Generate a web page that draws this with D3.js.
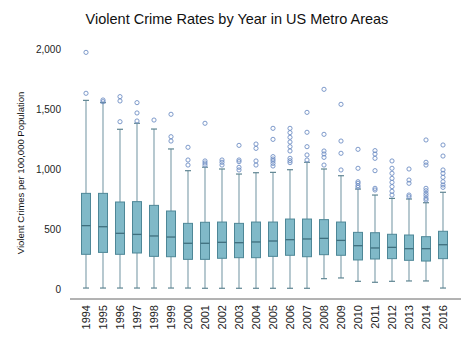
<!DOCTYPE html>
<html><head><meta charset="utf-8">
<script src="https://cdn.jsdelivr.net/npm/d3@7"></script>
<style>body{margin:0;background:#fff}svg{display:block}text{font-family:"Liberation Sans",Arial,sans-serif}</style>
</head><body><div id="chart"></div>
<script>
const years = ["1994","1995","1996","1997","1998","1999","2000","2001","2002","2003","2004","2005","2006","2007","2008","2009","2010","2011","2012","2013","2014","2016"];
const q3 = [797,797,725,728,697,650,547,556,558,547,558,558,583,583,578,558,472,469,456,450,436,481];
const medians = [528,519,464,455,442,433,381,381,389,386,392,400,411,417,422,405,361,342,347,336,336,369];
const q1 = [289,305,289,300,272,269,247,247,256,261,261,272,281,269,286,281,242,250,253,239,233,253];
const whiskerLow = [8,8,8,8,8,8,8,6,6,6,6,6,6,6,86,92,64,56,64,67,67,8];
const whiskerHigh = [1572,1553,1331,1381,1333,1167,986,1015,1000,958,969,972,994,1056,1000,944,833,783,755,750,719,806];
const outliers = [
  [1631,1972],
  [1561,1575],
  [1394,1567,1603],
  [1400,1467,1553],
  [1408],
  [1233,1269,1456],
  [1033,1075,1181],
  [1033,1050,1067,1381],
  [1033,1056,1075],
  [992,1014,1061,1075,1197],
  [1033,1067,1172,1208],
  [1025,1047,1067,1083,1103,1247,1339],
  [1053,1069,1089,1150,1186,1225,1264,1303,1339],
  [1075,1117,1186,1306,1472],
  [1033,1097,1125,1150,1289,1664],
  [992,1131,1233,1539],
  [847,861,881,894,1006,1164],
  [825,839,986,1089,1125,1153],
  [783,814,853,889,922,964,1006,1067],
  [769,783,881,908,1000],
  [742,756,778,797,819,839,1033,1056,1242],
  [847,867,894,931,964,992,1108,1200]
];
const yTicks = [0,500,1000,1500,2000];

const W = 474, H = 345;
const FONT = "Liberation Sans, Arial, sans-serif";
const svg = d3.select("#chart").append("svg").attr("width", W).attr("height", H);

const x = d3.scaleBand().domain(years).range([77.5, 451.5]).padding(0);
const y = d3.scaleLinear().domain([0, 2000]).range([289, 49]);

svg.append("text").attr("x", 237).attr("y", 24).attr("text-anchor", "middle")
  .attr("font-size", 14.5).attr("fill", "#111").text("Violent Crime Rates by Year in US Metro Areas");

// y axis (labels only)
const yAxis = d3.axisLeft(y).tickValues(yTicks).tickFormat(d3.format(",")).tickSize(0).tickPadding(0);
const gy = svg.append("g").attr("transform", "translate(61,0)").call(yAxis);
gy.select(".domain").remove();
gy.selectAll("text").attr("font-size", 10).attr("fill", "#222").attr("font-family", FONT);

svg.append("text").attr("transform", "translate(24,173) rotate(-90)").attr("text-anchor", "middle")
  .attr("font-size", 9.5).attr("fill", "#111").text("Violent Crimes per 100,000 Population");

// x axis
const xAxis = d3.axisBottom(x).tickSize(0).tickPadding(0);
const gx = svg.append("g").attr("transform", "translate(0,299)").call(xAxis);
gx.select(".domain").remove();
gx.append("line").attr("x1", 70).attr("x2", 461).attr("y1", 0).attr("y2", 0).attr("stroke", "#666").attr("stroke-width", 1);
gx.selectAll(".tick text").attr("transform", "rotate(-90)").attr("text-anchor", "end")
  .attr("x", -6).attr("y", 0).attr("dy", "0.35em").attr("font-size", 11).attr("fill", "#222")
  .attr("font-family", FONT);

const data = years.map((yr, i) => ({yr, q1: q1[i], med: medians[i], q3: q3[i], lo: whiskerLow[i], hi: whiskerHigh[i], out: outliers[i]}));
const bw = 9, cw = 6;
const whiskerColor = "#86a4b0";
const g = svg.append("g");
data.forEach(d => {
  const cx = x(d.yr) + x.bandwidth() / 2;
  g.append("line").attr("x1", cx).attr("x2", cx).attr("y1", y(d.q3)).attr("y2", y(d.hi)).attr("stroke", whiskerColor).attr("stroke-width", 1.2);
  g.append("line").attr("x1", cx).attr("x2", cx).attr("y1", y(d.q1)).attr("y2", y(d.lo)).attr("stroke", whiskerColor).attr("stroke-width", 1.2);
  g.append("line").attr("x1", cx - cw/2).attr("x2", cx + cw/2).attr("y1", y(d.hi)).attr("y2", y(d.hi)).attr("stroke", "#5f8592").attr("stroke-width", 1.2);
  g.append("line").attr("x1", cx - cw/2).attr("x2", cx + cw/2).attr("y1", y(d.lo)).attr("y2", y(d.lo)).attr("stroke", "#5f8592").attr("stroke-width", 1.2);
  g.append("rect").attr("x", cx - bw/2).attr("width", bw).attr("y", y(d.q3)).attr("height", y(d.q1) - y(d.q3))
    .attr("fill", "#80b9c8").attr("stroke", "#4e8797").attr("stroke-width", 1);
  g.append("line").attr("x1", cx - bw/2).attr("x2", cx + bw/2).attr("y1", y(d.med)).attr("y2", y(d.med)).attr("stroke", "#3f6f7e").attr("stroke-width", 1.3);
  d.out.forEach(v => {
    g.append("circle").attr("cx", cx).attr("cy", y(v)).attr("r", 2.1).attr("fill", "none").attr("stroke", "#6f8fc4").attr("stroke-width", 0.9);
  });
});
</script></body></html>
